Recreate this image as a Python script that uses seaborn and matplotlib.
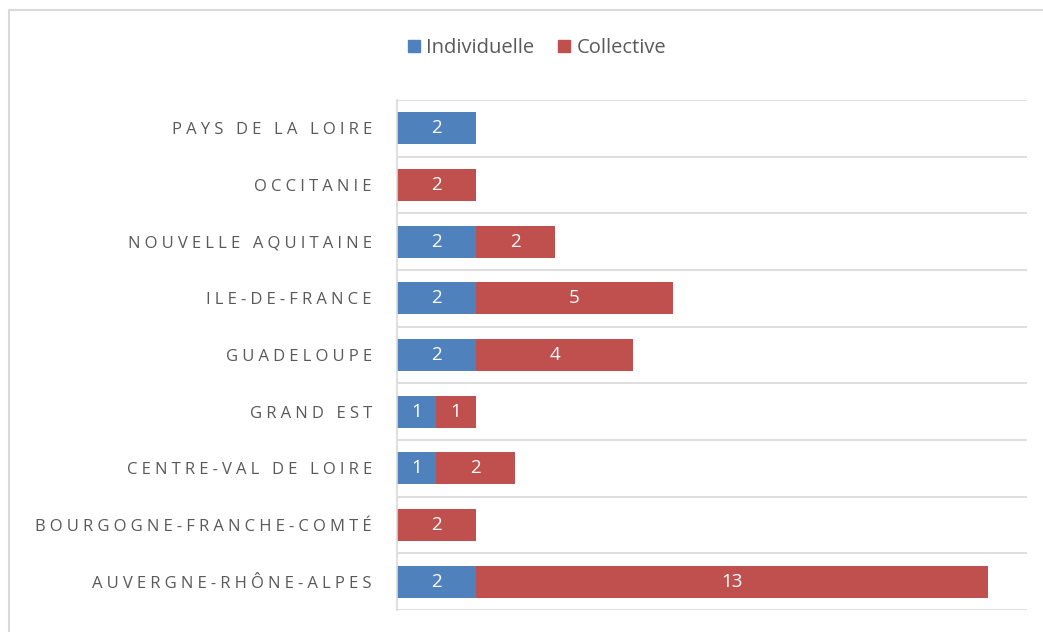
import pandas as pd
import numpy as np
import matplotlib.pyplot as plt
import seaborn as sns
from matplotlib.patches import Rectangle, Patch

# Data (top to bottom as displayed)
regions = [
    "PAYS DE LA LOIRE", "OCCITANIE", "NOUVELLE AQUITAINE", "ILE-DE-FRANCE",
    "GUADELOUPE", "GRAND EST", "CENTRE-VAL DE LOIRE",
    "BOURGOGNE-FRANCHE-COMTÉ", "AUVERGNE-RHÔNE-ALPES",
]
individuelle = [2, 0, 2, 2, 2, 1, 1, 0, 2]
collective = [0, 2, 2, 5, 4, 1, 2, 2, 13]

df = pd.DataFrame({"Region": regions, "Individuelle": individuelle, "Collective": collective})
df["Total"] = df["Individuelle"] + df["Collective"]

BLUE = "#4F81BD"
RED = "#C0504D"
GRID = "#D9D9D9"
SPACED = "\u2005"   # Excel draws the axis labels letter-spaced

sns.set_style("white")
plt.rcParams["font.family"] = ["Open Sans", "DejaVu Sans"]

fig = plt.figure(figsize=(10.43, 6.32), dpi=100)
ax = fig.add_axes([397 / 1043, 1 - 610 / 632, (1027 - 397) / 1043, 510 / 632])

# stacked: total in red, individual part on top in blue
sns.barplot(data=df, y="Region", x="Total", color=RED, width=0.56, orient="h",
            saturation=1, linewidth=0, ax=ax, order=regions)
sns.barplot(data=df, y="Region", x="Individuelle", color=BLUE, width=0.56, orient="h",
            saturation=1, linewidth=0, ax=ax, order=regions)

for i, row in df.iterrows():
    if row["Individuelle"] > 0:
        ax.text(row["Individuelle"] / 2, i, str(row["Individuelle"]), color="white",
                ha="center", va="center", fontsize=13.5)
    if row["Collective"] > 0:
        ax.text(row["Individuelle"] + row["Collective"] / 2, i, str(row["Collective"]),
                color="white", ha="center", va="center", fontsize=13.5)

ax.set_xlim(0, 16)
ax.set_ylim(8.5, -0.5)
ax.set_xlabel("")
ax.set_ylabel("")
ax.set_xticks([])
ax.set_yticks(range(len(regions)))
ax.set_yticklabels([SPACED.join(r) for r in regions], color="#595959", fontsize=12)
ax.set_yticks(np.arange(-0.5, len(regions), 1), minor=True)
ax.tick_params(axis="y", which="both", length=0, pad=18)
ax.grid(True, axis="y", which="minor", color=GRID, linewidth=1.2)
ax.set_axisbelow(True)
for s in ["top", "right", "bottom"]:
    ax.spines[s].set_visible(False)
ax.spines["left"].set_color(GRID)
ax.spines["left"].set_linewidth(1.2)

# outer chart border
fig.patches.append(Rectangle((9 / 1043, -0.1), 1.2, 1 - 10 / 632 + 0.1,
                             transform=fig.transFigure, fill=False,
                             edgecolor=GRID, linewidth=1.5))

handles = [Patch(color=BLUE, label="Individuelle"), Patch(color=RED, label="Collective")]
fig.legend(handles=handles, loc="center", bbox_to_anchor=(537 / 1043, 1 - 48 / 632),
           ncol=2, frameon=False, fontsize=14.5, handlelength=0.6, handleheight=0.6,
           handletextpad=0.3, columnspacing=1.2, labelcolor="#595959")

fig.savefig("out.png", dpi=100)
